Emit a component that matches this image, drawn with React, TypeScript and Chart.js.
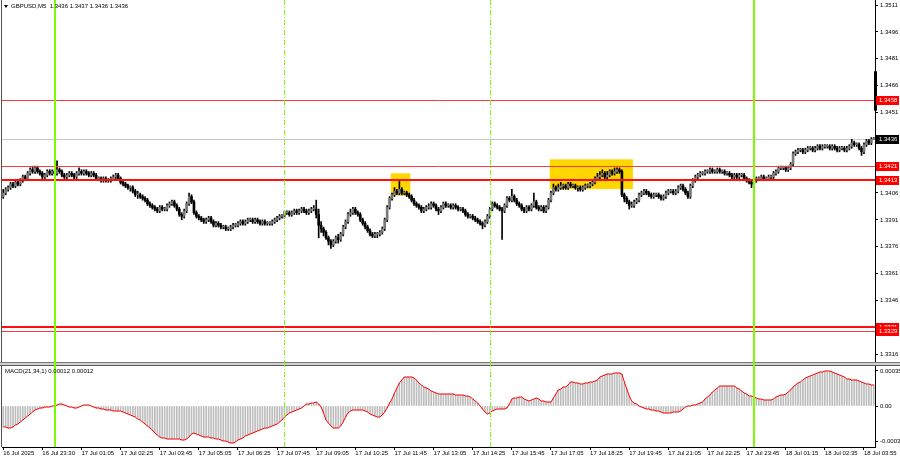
import React, { useEffect, useRef } from "react";
import { Chart, registerables } from "chart.js";
Chart.register(...registerables);

// ---------- DATA ----------
const symbolTitle = "GBPUSD,M5  1.3436 1.3437 1.3436 1.3436";
const macdTitle = "MACD(21,34,1) 0.00012 0.00012";

const firstOpen = 1.3404;
const closes = [
  1.3406,1.3408,1.3409,1.3411,1.3410,1.3412,1.3411,1.3413,1.3415,1.3414,
  1.3417,1.3419,1.3418,1.3420,1.3418,1.3417,1.3415,1.3416,1.3418,1.3417,
  1.3418,1.3417,1.3419,1.3418,1.3416,1.3415,1.3416,1.3417,1.3416,1.3415,
  1.3417,1.3418,1.3417,1.3418,1.3417,1.3416,1.3417,1.3416,1.3414,1.3414,
  1.3413,1.3414,1.3413,1.3413,1.3414,1.3415,1.3416,1.3414,1.3412,1.3411,
  1.3410,1.3409,1.3409,1.3407,1.3405,1.3405,1.3404,1.3403,1.3402,1.3400,
  1.3399,1.3398,1.3397,1.3396,1.3398,1.3397,1.3397,1.3399,1.3400,1.3401,
  1.3399,1.3397,1.3394,1.3393,1.3396,1.3400,1.3404,1.3401,1.3395,1.3393,
  1.3392,1.3391,1.3390,1.3391,1.3392,1.3390,1.3388,1.3389,1.3388,1.3387,
  1.3387,1.3386,1.3386,1.3387,1.3388,1.3388,1.3389,1.3390,1.3389,1.3390,
  1.3391,1.3391,1.3390,1.3391,1.3390,1.3389,1.3390,1.3389,1.3389,1.3389,
  1.3390,1.3391,1.3392,1.3393,1.3393,1.3395,1.3395,1.3394,1.3395,1.3396,
  1.3395,1.3396,1.3397,1.3396,1.3395,1.3396,1.3397,1.3397,1.3394,1.3388,
  1.3386,1.3384,1.3381,1.3379,1.3377,1.3379,1.3381,1.3380,1.3383,1.3387,
  1.3390,1.3394,1.3395,1.3397,1.3395,1.3394,1.3391,1.3389,1.3387,1.3385,
  1.3383,1.3382,1.3383,1.3383,1.3384,1.3386,1.3391,1.3398,1.3403,1.3405,
  1.3407,1.3406,1.3408,1.3406,1.3406,1.3405,1.3404,1.3402,1.3400,1.3399,
  1.3398,1.3396,1.3397,1.3398,1.3398,1.3400,1.3399,1.3397,1.3396,1.3398,
  1.3400,1.3399,1.3399,1.3398,1.3399,1.3398,1.3397,1.3397,1.3396,1.3394,
  1.3393,1.3393,1.3392,1.3391,1.3390,1.3389,1.3388,1.3390,1.3393,1.3397,
  1.3400,1.3399,1.3398,1.3397,1.3396,1.3399,1.3403,1.3402,1.3404,1.3402,
  1.3400,1.3399,1.3397,1.3396,1.3398,1.3397,1.3399,1.3401,1.3398,1.3397,
  1.3398,1.3396,1.3398,1.3402,1.3406,1.3409,1.3408,1.3409,1.3410,1.3410,
  1.3409,1.3411,1.3410,1.3410,1.3409,1.3409,1.3408,1.3409,1.3410,1.3410,
  1.3411,1.3412,1.3414,1.3415,1.3416,1.3417,1.3415,1.3416,1.3418,1.3417,
  1.3418,1.3419,1.3418,1.3405,1.3403,1.3401,1.3399,1.3399,1.3401,1.3402,
  1.3405,1.3406,1.3407,1.3406,1.3405,1.3404,1.3405,1.3405,1.3404,1.3403,
  1.3404,1.3406,1.3407,1.3407,1.3406,1.3407,1.3409,1.3410,1.3408,1.3406,
  1.3404,1.3410,1.3413,1.3415,1.3416,1.3417,1.3417,1.3418,1.3418,1.3419,
  1.3418,1.3418,1.3419,1.3418,1.3418,1.3417,1.3417,1.3416,1.3415,1.3416,
  1.3415,1.3416,1.3416,1.3414,1.3413,1.3412,1.3411,1.3413,1.3414,1.3414,
  1.3415,1.3414,1.3414,1.3415,1.3415,1.3417,1.3418,1.3420,1.3420,1.3420,
  1.3419,1.3420,1.3422,1.3428,1.3429,1.3430,1.3430,1.3429,1.3430,1.3431,
  1.3431,1.3430,1.3431,1.3432,1.3431,1.3432,1.3432,1.3432,1.3431,1.3432,
  1.3431,1.3430,1.3431,1.3431,1.3430,1.3431,1.3432,1.3434,1.3433,1.3433,
  1.3431,1.3429,1.3433,1.3435,1.3434,1.3436,1.3436,
];
const highs = [
  1.3408,1.3409,1.3410,1.3412,1.3412,1.3413,1.3413,1.3414,1.3416,1.3416,
  1.3418,1.3420,1.3421,1.3421,1.3421,1.3419,1.3418,1.3417,1.3419,1.3419,
  1.3419,1.3419,1.3424,1.3420,1.3419,1.3417,1.3417,1.3418,1.3418,1.3417,
  1.3418,1.3420,1.3419,1.3419,1.3419,1.3418,1.3418,1.3418,1.3417,1.3415,
  1.3415,1.3415,1.3415,1.3414,1.3415,1.3416,1.3417,1.3417,1.3415,1.3413,
  1.3412,1.3411,1.3410,1.3410,1.3408,1.3407,1.3406,1.3405,1.3404,1.3403,
  1.3401,1.3400,1.3399,1.3398,1.3399,1.3399,1.3398,1.3400,1.3401,1.3402,
  1.3402,1.3400,1.3398,1.3395,1.3397,1.3401,1.3406,1.3405,1.3402,1.3396,
  1.3394,1.3393,1.3392,1.3392,1.3393,1.3393,1.3391,1.3390,1.3390,1.3389,
  1.3388,1.3388,1.3387,1.3388,1.3389,1.3389,1.3390,1.3391,1.3391,1.3391,
  1.3392,1.3392,1.3392,1.3392,1.3392,1.3391,1.3391,1.3391,1.3390,1.3390,
  1.3391,1.3392,1.3393,1.3394,1.3394,1.3396,1.3396,1.3396,1.3396,1.3397,
  1.3397,1.3397,1.3398,1.3398,1.3397,1.3397,1.3398,1.3399,1.3402,1.3397,
  1.3390,1.3387,1.3385,1.3382,1.3380,1.3380,1.3382,1.3383,1.3384,1.3388,
  1.3391,1.3395,1.3397,1.3398,1.3398,1.3396,1.3395,1.3392,1.3390,1.3388,
  1.3386,1.3384,1.3384,1.3384,1.3385,1.3387,1.3392,1.3399,1.3404,1.3406,
  1.3409,1.3408,1.3413,1.3409,1.3407,1.3407,1.3406,1.3405,1.3403,1.3401,
  1.3400,1.3399,1.3398,1.3399,1.3400,1.3401,1.3401,1.3400,1.3398,1.3399,
  1.3401,1.3401,1.3400,1.3400,1.3400,1.3400,1.3399,1.3398,1.3398,1.3397,
  1.3395,1.3394,1.3394,1.3393,1.3392,1.3391,1.3390,1.3391,1.3394,1.3398,
  1.3401,1.3401,1.3400,1.3399,1.3398,1.3400,1.3404,1.3404,1.3408,1.3405,
  1.3403,1.3401,1.3400,1.3398,1.3399,1.3399,1.3400,1.3406,1.3402,1.3399,
  1.3399,1.3399,1.3399,1.3403,1.3407,1.3411,1.3410,1.3411,1.3412,1.3411,
  1.3411,1.3412,1.3412,1.3411,1.3411,1.3410,1.3410,1.3410,1.3411,1.3411,
  1.3412,1.3413,1.3415,1.3417,1.3418,1.3419,1.3418,1.3418,1.3419,1.3419,
  1.3420,1.3420,1.3420,1.3419,1.3406,1.3404,1.3402,1.3401,1.3402,1.3403,
  1.3406,1.3407,1.3408,1.3408,1.3407,1.3406,1.3406,1.3406,1.3406,1.3405,
  1.3405,1.3407,1.3408,1.3408,1.3408,1.3408,1.3410,1.3411,1.3411,1.3409,
  1.3407,1.3411,1.3414,1.3416,1.3417,1.3418,1.3418,1.3419,1.3419,1.3420,
  1.3420,1.3419,1.3420,1.3420,1.3419,1.3419,1.3418,1.3418,1.3417,1.3417,
  1.3417,1.3417,1.3417,1.3417,1.3415,1.3414,1.3413,1.3414,1.3415,1.3415,
  1.3416,1.3416,1.3415,1.3416,1.3416,1.3418,1.3419,1.3421,1.3421,1.3421,
  1.3421,1.3421,1.3423,1.3429,1.3430,1.3431,1.3431,1.3431,1.3431,1.3432,
  1.3432,1.3432,1.3432,1.3433,1.3433,1.3433,1.3433,1.3433,1.3433,1.3433,
  1.3433,1.3432,1.3432,1.3432,1.3432,1.3432,1.3433,1.3436,1.3435,1.3434,
  1.3434,1.3432,1.3434,1.3436,1.3436,1.3437,1.3437,
];
const lows = [
  1.3403,1.3405,1.3407,1.3408,1.3409,1.3409,1.3410,1.3410,1.3412,1.3413,
  1.3413,1.3416,1.3417,1.3417,1.3417,1.3416,1.3414,1.3414,1.3415,1.3416,
  1.3416,1.3416,1.3416,1.3417,1.3415,1.3414,1.3414,1.3415,1.3415,1.3414,
  1.3414,1.3416,1.3416,1.3416,1.3416,1.3415,1.3415,1.3415,1.3413,1.3413,
  1.3412,1.3412,1.3412,1.3412,1.3412,1.3413,1.3414,1.3413,1.3411,1.3410,
  1.3409,1.3408,1.3407,1.3406,1.3404,1.3403,1.3403,1.3402,1.3401,1.3399,
  1.3398,1.3397,1.3396,1.3395,1.3395,1.3396,1.3396,1.3396,1.3398,1.3399,
  1.3398,1.3396,1.3393,1.3391,1.3392,1.3395,1.3399,1.3400,1.3394,1.3392,
  1.3391,1.3390,1.3389,1.3389,1.3390,1.3389,1.3387,1.3387,1.3387,1.3386,
  1.3386,1.3385,1.3385,1.3385,1.3386,1.3387,1.3387,1.3388,1.3388,1.3388,
  1.3389,1.3390,1.3389,1.3389,1.3389,1.3388,1.3388,1.3388,1.3388,1.3388,
  1.3388,1.3389,1.3390,1.3391,1.3392,1.3392,1.3394,1.3393,1.3393,1.3394,
  1.3394,1.3394,1.3395,1.3395,1.3394,1.3394,1.3395,1.3396,1.3392,1.3381,
  1.3384,1.3382,1.3380,1.3377,1.3375,1.3376,1.3378,1.3378,1.3379,1.3382,
  1.3386,1.3389,1.3393,1.3394,1.3394,1.3393,1.3390,1.3388,1.3386,1.3384,
  1.3382,1.3381,1.3381,1.3381,1.3382,1.3383,1.3385,1.3390,1.3397,1.3402,
  1.3404,1.3405,1.3405,1.3405,1.3405,1.3404,1.3403,1.3401,1.3399,1.3398,
  1.3397,1.3395,1.3395,1.3396,1.3397,1.3397,1.3398,1.3396,1.3394,1.3395,
  1.3397,1.3398,1.3398,1.3397,1.3397,1.3397,1.3396,1.3396,1.3395,1.3393,
  1.3392,1.3392,1.3391,1.3390,1.3389,1.3388,1.3386,1.3387,1.3389,1.3392,
  1.3396,1.3398,1.3397,1.3396,1.3380,1.3395,1.3398,1.3401,1.3401,1.3401,
  1.3399,1.3398,1.3396,1.3395,1.3395,1.3396,1.3396,1.3398,1.3397,1.3396,
  1.3396,1.3395,1.3395,1.3397,1.3401,1.3405,1.3407,1.3407,1.3408,1.3408,
  1.3408,1.3408,1.3409,1.3409,1.3408,1.3407,1.3407,1.3407,1.3408,1.3409,
  1.3409,1.3410,1.3411,1.3413,1.3414,1.3415,1.3413,1.3414,1.3415,1.3416,
  1.3416,1.3417,1.3417,1.3404,1.3401,1.3400,1.3397,1.3398,1.3398,1.3400,
  1.3401,1.3404,1.3405,1.3405,1.3404,1.3403,1.3403,1.3404,1.3403,1.3402,
  1.3402,1.3403,1.3405,1.3406,1.3405,1.3405,1.3406,1.3408,1.3407,1.3405,
  1.3403,1.3403,1.3409,1.3412,1.3414,1.3415,1.3416,1.3416,1.3417,1.3417,
  1.3417,1.3417,1.3417,1.3417,1.3417,1.3416,1.3416,1.3415,1.3414,1.3414,
  1.3414,1.3414,1.3415,1.3413,1.3412,1.3411,1.3409,1.3410,1.3412,1.3413,
  1.3413,1.3413,1.3413,1.3413,1.3414,1.3414,1.3416,1.3417,1.3419,1.3419,
  1.3418,1.3418,1.3419,1.3421,1.3427,1.3428,1.3429,1.3428,1.3428,1.3429,
  1.3430,1.3429,1.3429,1.3430,1.3430,1.3430,1.3431,1.3431,1.3430,1.3430,
  1.3430,1.3429,1.3429,1.3430,1.3429,1.3429,1.3430,1.3431,1.3432,1.3432,
  1.3430,1.3427,1.3428,1.3432,1.3433,1.3433,1.3436,
];
const macdValues = [
  -0.00021,-0.00021,-0.00022,-0.00022,-0.00021,-0.00019,-0.00018,-0.00016,-0.00014,-0.00012,
  -0.00010,-0.00008,-0.00006,-0.00004,-0.00003,-0.00002,-0.00002,-0.00001,-0.00001,-0.00001,
  0,0,0.00001,0.00002,0.00002,0.00001,0,-0.00001,-0.00001,-0.00002,
  -0.00002,-0.00001,0,0.00001,0.00001,0.00001,0,-0.00001,-0.00002,-0.00002,
  -0.00003,-0.00003,-0.00004,-0.00004,-0.00004,-0.00005,-0.00005,-0.00005,-0.00005,-0.00006,
  -0.00007,-0.00008,-0.00009,-0.00010,-0.00011,-0.00013,-0.00014,-0.00016,-0.00018,-0.00020,
  -0.00022,-0.00024,-0.00027,-0.00029,-0.00031,-0.00032,-0.00032,-0.00033,-0.00033,-0.00033,
  -0.00033,-0.00033,-0.00033,-0.00034,-0.00034,-0.00033,-0.00031,-0.00028,-0.00027,-0.00028,
  -0.00029,-0.00030,-0.00031,-0.00031,-0.00031,-0.00032,-0.00032,-0.00033,-0.00033,-0.00034,
  -0.00035,-0.00035,-0.00036,-0.00037,-0.00037,-0.00036,-0.00034,-0.00033,-0.00032,-0.00030,
  -0.00029,-0.00028,-0.00027,-0.00026,-0.00025,-0.00024,-0.00023,-0.00022,-0.00022,-0.00021,
  -0.00020,-0.00019,-0.00018,-0.00016,-0.00014,-0.00011,-0.00009,-0.00007,-0.00006,-0.00005,
  -0.00004,-0.00003,-0.00002,0,0.00002,0.00002,0.00003,0.00003,0.00004,0.00002,
  -0.00001,-0.00007,-0.00014,-0.00017,-0.00020,-0.00022,-0.00022,-0.00022,-0.00020,-0.00016,
  -0.00011,-0.00007,-0.00005,-0.00004,-0.00004,-0.00004,-0.00004,-0.00004,-0.00005,-0.00006,
  -0.00008,-0.00009,-0.00010,-0.00011,-0.00011,-0.00009,-0.00006,-0.00002,0.00003,0.00007,
  0.00013,0.00018,0.00023,0.00026,0.00029,0.00029,0.00029,0.00029,0.00028,0.00026,
  0.00023,0.00021,0.00019,0.00018,0.00017,0.00015,0.00014,0.00013,0.00012,0.00012,
  0.00012,0.00012,0.00012,0.00012,0.00012,0.00011,0.00011,0.00011,0.00011,0.00010,
  0.00010,0.00009,0.00007,0.00005,0.00003,0,-0.00003,-0.00006,-0.00008,-0.00007,
  -0.00005,-0.00004,-0.00003,-0.00003,-0.00003,-0.00003,-0.00002,0.00002,0.00007,0.00008,
  0.00008,0.00009,0.00009,0.00007,0.00006,0.00005,0.00006,0.00007,0.00008,0.00007,
  0.00005,0.00005,0.00004,0.00004,0.00004,0.00008,0.00012,0.00016,0.00017,0.00019,
  0.00019,0.00021,0.00024,0.00024,0.00023,0.00023,0.00022,0.00022,0.00023,0.00023,
  0.00024,0.00024,0.00025,0.00026,0.00029,0.00030,0.00031,0.00032,0.00032,0.00032,
  0.00033,0.00033,0.00033,0.00032,0.00024,0.00017,0.00010,0.00005,0.00003,0.00002,
  0,-0.00001,-0.00002,-0.00003,-0.00003,-0.00004,-0.00004,-0.00005,-0.00005,-0.00006,
  -0.00007,-0.00007,-0.00007,-0.00007,-0.00006,-0.00006,-0.00006,-0.00005,-0.00003,-0.00001,
  0,0,0.00001,0.00001,0.00002,0.00003,0.00004,0.00007,0.00009,0.00011,
  0.00014,0.00016,0.00018,0.00020,0.00020,0.00020,0.00020,0.00020,0.00020,0.00020,
  0.00018,0.00017,0.00015,0.00013,0.00012,0.00010,0.00010,0.00009,0.00008,0.00007,
  0.00007,0.00006,0.00006,0.00006,0.00006,0.00007,0.00009,0.00010,0.00011,0.00011,
  0.00012,0.00014,0.00016,0.00019,0.00021,0.00023,0.00024,0.00026,0.00028,0.00029,
  0.00030,0.00031,0.00032,0.00033,0.00034,0.00034,0.00035,0.00035,0.00035,0.00034,
  0.00033,0.00032,0.00031,0.00030,0.00029,0.00027,0.00027,0.00026,0.00026,0.00026,
  0.00025,0.00024,0.00023,0.00022,0.00022,0.00021,0.00021,
];
const timeLabels = [
  "16 Jul 2025","16 Jul 23:30","17 Jul 01:05","17 Jul 02:25","17 Jul 03:45","17 Jul 05:05",
  "17 Jul 06:25","17 Jul 07:45","17 Jul 09:05","17 Jul 10:25","17 Jul 11:45","17 Jul 13:05",
  "17 Jul 14:25","17 Jul 15:45","17 Jul 17:05","17 Jul 18:25","17 Jul 19:45","17 Jul 21:05",
  "17 Jul 22:25","17 Jul 23:45","18 Jul 01:15","18 Jul 02:35","18 Jul 03:55",
];
const labelEvery = 16;
const priceTicks = [1.3511,1.3496,1.3481,1.3466,1.3451,1.3436,1.3421,1.3406,1.3391,1.3376,1.3361,1.3346,1.3331,1.3316];
const priceMin = 1.33116;
const priceMax = 1.35138;
const macdTicks = [0.00035, 0, -0.00035];
const macdMin = -0.00041;
const macdMax = 0.0004;
const bidPrice = 1.3436;
const levelPrices = [1.3458, 1.3421, 1.3413, 1.3331, 1.3329];
const solidLineBars = [21, 307];
const dashedLineBars = [115, 199];
const boxFirstBar = [159, 224];
const boxLastBar = [166, 257];
const boxTop = [1.3417, 1.34248];
const boxBottom = [1.34045, 1.34082];
const scaleMarkTop = 1.3474;
const scaleMarkBottom = 1.3452;

// ---------- STYLE ----------
const FONT = "'Liberation Sans', Arial, sans-serif";
const FS = 6;
const levelWidths = [1, 1, 2, 2, 1];
const levelColors = ["#FF3C3C", "#FF3C3C", "#FF1010", "#FF1010", "#FF3C3C"];
const GREEN = "#7CFC00";

const opens = closes.map((c, i) => (i === 0 ? firstOpen : closes[i - 1]));
const cats = closes.map((_, i) => String(i));

function noPad(s) {
  s.paddingTop = 0;
  s.paddingBottom = 0;
  s.paddingLeft = 0;
  s.paddingRight = 0;
}

function drawVLines(chart, top, bottom) {
  const { ctx, scales: { x } } = chart;
  ctx.save();
  ctx.strokeStyle = GREEN;
  ctx.lineWidth = 2;
  solidLineBars.forEach((b) => {
    const px = Math.round(x.getPixelForValue(b));
    ctx.beginPath(); ctx.moveTo(px, top); ctx.lineTo(px, bottom); ctx.stroke();
  });
  ctx.lineWidth = 1;
  ctx.setLineDash([5, 2, 1, 2]);
  dashedLineBars.forEach((b) => {
    const px = Math.round(x.getPixelForValue(b)) + 0.5;
    ctx.beginPath(); ctx.moveTo(px, top); ctx.lineTo(px, bottom); ctx.stroke();
  });
  ctx.restore();
}

function tag(ctx, yy, text, bg, left, width) {
  const cy = Math.round(yy);
  ctx.fillStyle = bg;
  ctx.fillRect(left, cy - 4, width, 9);
  ctx.fillStyle = "#fff";
  ctx.font = `${FS}px ${FONT}`;
  ctx.textAlign = "left";
  ctx.textBaseline = "middle";
  ctx.fillText(text, left + 3, cy + 0.5);
}

const pricePlugin = {
  id: "pricePlugin",
  beforeDatasetsDraw(chart) {
    const { ctx, chartArea: a, scales: { x, y } } = chart;
    const half = (x.getPixelForValue(1) - x.getPixelForValue(0)) / 2;
    ctx.save();
    ctx.fillStyle = "#FFD700";
    boxFirstBar.forEach((f, k) => {
      const x0 = x.getPixelForValue(f) - half;
      const x1 = x.getPixelForValue(boxLastBar[k]) + half;
      const y0 = y.getPixelForValue(boxTop[k]);
      const y1 = y.getPixelForValue(boxBottom[k]);
      ctx.fillRect(x0, y0, x1 - x0, y1 - y0);
    });
    const by = Math.round(y.getPixelForValue(bidPrice)) + 0.5;
    ctx.strokeStyle = "#C8C8C8";
    ctx.lineWidth = 1;
    ctx.beginPath(); ctx.moveTo(a.left, by); ctx.lineTo(a.right, by); ctx.stroke();
    ctx.restore();
  },
  afterDatasetsDraw(chart) {
    const { ctx, chartArea: a, scales: { y } } = chart;
    ctx.save();
    levelPrices.forEach((p, k) => {
      const w = levelWidths[k];
      const yy = Math.round(y.getPixelForValue(p)) + (w % 2 ? 0.5 : 0);
      ctx.strokeStyle = levelColors[k];
      ctx.lineWidth = w;
      ctx.beginPath(); ctx.moveTo(a.left, yy); ctx.lineTo(a.right, yy); ctx.stroke();
    });
    ctx.restore();
    drawVLines(chart, 0, a.bottom);
  },
  afterDraw(chart) {
    const { ctx, chartArea: a, scales: { y }, width } = chart;
    ctx.save();
    ctx.strokeStyle = "#505050";
    ctx.lineWidth = 1;
    ctx.beginPath(); ctx.moveTo(1.5, 0); ctx.lineTo(1.5, a.bottom); ctx.stroke();
    ctx.fillStyle = "#000";
    const t = y.getPixelForValue(scaleMarkTop);
    const b = y.getPixelForValue(scaleMarkBottom);
    ctx.fillRect(a.right - 1, t, 3, b - t);
    const left = a.right + 1;
    const w = width - left - 1;
    levelPrices.forEach((p) => tag(ctx, y.getPixelForValue(p), p.toFixed(4), "#FF0000", left, w));
    tag(ctx, y.getPixelForValue(bidPrice), bidPrice.toFixed(4), "#000000", left, w);
    ctx.fillStyle = "#000";
    ctx.beginPath(); ctx.moveTo(4, 5); ctx.lineTo(8, 5); ctx.lineTo(6, 8); ctx.closePath(); ctx.fill();
    ctx.font = `${FS}px ${FONT}`;
    ctx.textAlign = "left";
    ctx.textBaseline = "middle";
    ctx.fillText(symbolTitle, 11, 6.5);
    ctx.restore();
  },
};

const macdPlugin = {
  id: "macdPlugin",
  beforeDraw(chart) {
    const { ctx, width } = chart;
    ctx.save();
    ctx.fillStyle = "#D0D0D0";
    ctx.fillRect(0, 0, width, 4);
    ctx.fillStyle = "#7A7A7A";
    ctx.fillRect(0, 0, width, 1);
    ctx.fillStyle = "#5A5A5A";
    ctx.fillRect(0, 3, width, 1);
    ctx.restore();
  },
  afterDatasetsDraw(chart) {
    drawVLines(chart, 0, chart.chartArea.bottom);
  },
  afterDraw(chart) {
    const { ctx, chartArea: a } = chart;
    ctx.save();
    ctx.strokeStyle = "#505050";
    ctx.lineWidth = 1;
    ctx.beginPath(); ctx.moveTo(1.5, 4); ctx.lineTo(1.5, a.bottom); ctx.stroke();
    ctx.fillStyle = "#000";
    ctx.font = `${FS}px ${FONT}`;
    ctx.textAlign = "left";
    ctx.textBaseline = "middle";
    ctx.fillText(macdTitle, 5, 9);
    ctx.restore();
  },
};

const tickFont = { family: FONT, size: FS };

export default function App() {
  const priceRef = useRef(null);
  const macdRef = useRef(null);

  useEffect(() => {
    const pc = new Chart(priceRef.current, {
      type: "bar",
      data: {
        labels: cats,
        datasets: [
          {
            data: lows.map((l, i) => [l, highs[i]]),
            backgroundColor: "#000",
            barThickness: 1,
            grouped: false,
            order: 2,
          },
          {
            data: closes.map((c, i) => [opens[i], c]),
            backgroundColor: closes.map((c, i) => (c >= opens[i] ? "#7A7A7A" : "#000")),
            barThickness: 2,
            minBarLength: 1,
            grouped: false,
            order: 1,
          },
        ],
      },
      options: {
        responsive: false,
        maintainAspectRatio: false,
        animation: false,
        events: [],
        layout: { padding: { left: 2, top: 0, right: 0, bottom: 0 } },
        plugins: { legend: { display: false }, tooltip: { enabled: false } },
        scales: {
          x: { type: "category", display: false, offset: true },
          y: {
            position: "right",
            min: priceMin,
            max: priceMax,
            bounds: "data",
            afterBuildTicks: (s) => { s.ticks = priceTicks.map((v) => ({ value: v })); },
            afterFit: (s) => { s.width = 25; noPad(s); },
            ticks: { font: tickFont, color: "#000", padding: 2, callback: (v) => Number(v).toFixed(4) },
            grid: { drawOnChartArea: false, drawTicks: true, tickLength: 3, color: "#000" },
            border: { display: true, color: "#000" },
          },
        },
      },
      plugins: [pricePlugin],
    });

    const mc = new Chart(macdRef.current, {
      type: "bar",
      data: {
        labels: cats,
        datasets: [
          {
            type: "line",
            data: macdValues,
            borderColor: "#FF0000",
            borderWidth: 1,
            pointRadius: 0,
            tension: 0,
            order: 1,
          },
          {
            type: "bar",
            data: macdValues,
            backgroundColor: "#BDBDBD",
            barThickness: 1,
            grouped: false,
            order: 2,
          },
        ],
      },
      options: {
        responsive: false,
        maintainAspectRatio: false,
        animation: false,
        events: [],
        layout: { padding: { left: 2, top: 4, right: 0, bottom: 0 } },
        plugins: { legend: { display: false }, tooltip: { enabled: false } },
        scales: {
          x: {
            type: "category",
            offset: true,
            afterBuildTicks: (s) => { s.ticks = s.ticks.filter((t) => t.value % labelEvery === 0); },
            afterFit: (s) => { s.height = 13; noPad(s); },
            ticks: {
              font: tickFont,
              color: "#000",
              autoSkip: false,
              maxRotation: 0,
              minRotation: 0,
              align: "start",
              padding: 0,
              callback: (v) => timeLabels[Math.round(Number(v) / labelEvery)] || "",
            },
            grid: { drawOnChartArea: false, drawTicks: true, tickLength: 3, color: "#000", offset: false },
            border: { display: true, color: "#000" },
          },
          y: {
            position: "right",
            min: macdMin,
            max: macdMax,
            bounds: "data",
            afterBuildTicks: (s) => { s.ticks = macdTicks.map((v) => ({ value: v })); },
            afterFit: (s) => { s.width = 25; noPad(s); },
            ticks: {
              font: tickFont,
              color: "#000",
              padding: 2,
              callback: (v) => (Number(v) === 0 ? "0.00" : Number(v).toFixed(5)),
            },
            grid: { drawOnChartArea: false, drawTicks: true, tickLength: 3, color: "#000" },
            border: { display: true, color: "#000" },
          },
        },
      },
      plugins: [macdPlugin],
    });

    return () => { pc.destroy(); mc.destroy(); };
  }, []);

  return (
    <div style={{ position: "absolute", left: 0, top: 0, width: 900, height: 460, background: "#fff", overflow: "hidden" }}>
      <canvas ref={priceRef} width={900} height={362} style={{ position: "absolute", left: 0, top: 0, width: 900, height: 362 }} />
      <canvas ref={macdRef} width={900} height={98} style={{ position: "absolute", left: 0, top: 362, width: 900, height: 98 }} />
    </div>
  );
}
